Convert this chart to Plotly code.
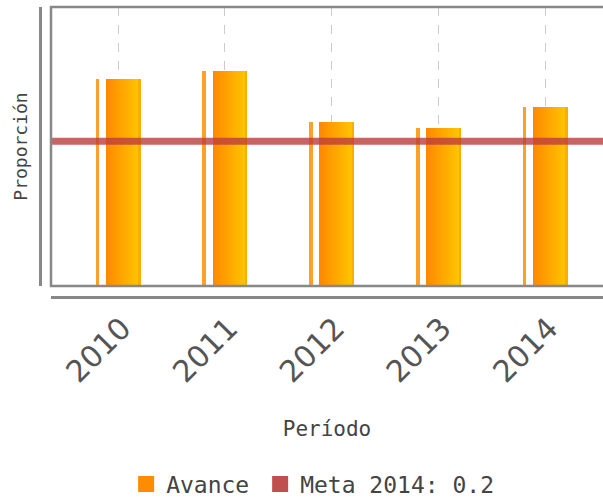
import plotly.graph_objects as go

# ---- data ----
periods = ["2010", "2011", "2012", "2013", "2014"]
avance = [0.286, 0.297, 0.227, 0.218, 0.248]
meta_value = 0.2
series_name = "Avance"
meta_label = "Meta 2014: 0.2"
x_title = "Período"
y_title = "Proporción"

# ---- layout geometry ----
W, H = 603, 501
ML, MR, MT, MB = 40, 0, 7, 204
plot_w = W - ML - MR
plot_h = H - MT - MB
x_dom0 = 11 / plot_w
y_dom0 = 11 / plot_h

fig = go.Figure()

# body of each bar drawn as thin slices to imitate the horizontal gradient
body_offset = -0.113
body_width = 0.323
n_slices = 16
c0 = (255, 138, 0)
c1 = (255, 198, 0)
sw = body_width / n_slices
for i in range(n_slices):
    t = i / (n_slices - 1)
    col = tuple(round(c0[k] + (c1[k] - c0[k]) * t) for k in range(3))
    if i == n_slices - 1:
        col = (255, 172, 0)
    fig.add_trace(go.Bar(
        x=periods, y=avance, width=sw * 1.02, offset=body_offset + i * sw,
        marker=dict(color="rgb(%d,%d,%d)" % col, line=dict(width=0)),
        showlegend=False, hoverinfo="skip"))

# thin highlight strip on the left of each bar
fig.add_trace(go.Bar(
    x=periods, y=avance, width=0.035, offset=-0.21,
    marker=dict(color="rgb(255,160,40)", line=dict(width=0)),
    showlegend=False, hoverinfo="skip"))

# legend entries (two legends so they can be placed like the reference)
fig.add_trace(go.Scatter(x=[None], y=[None], mode="markers", name=series_name,
                         legend="legend",
                         marker=dict(symbol="square", size=16, color="#FF8C00")))
fig.add_trace(go.Scatter(x=[None], y=[None], mode="markers", name=meta_label,
                         legend="legend2",
                         marker=dict(symbol="square", size=16, color="#C0504D")))

# goal line
fig.add_shape(type="line", xref="x domain", x0=0, x1=1, yref="y",
              y0=meta_value, y1=meta_value,
              line=dict(color="rgba(190,60,60,0.8)", width=7), layer="above")

# plot frame (right side falls outside the canvas)
fig.add_shape(type="rect", xref="x domain", x0=0, x1=1.06, yref="y domain",
              y0=0, y1=1, line=dict(color="#888888", width=2.5), layer="above")

legend_font = dict(size=23, family="DejaVu Sans Mono", color="#444444")

fig.update_layout(
    width=W, height=H,
    margin=dict(l=ML, r=MR, t=MT, b=MB, autoexpand=False),
    paper_bgcolor="white", plot_bgcolor="white",
    barmode="overlay", bargap=0,
    font=dict(family="DejaVu Sans Mono", color="#444444"),
    showlegend=True,
    legend=dict(orientation="h", x=0.153, xanchor="left", y=-0.645,
                yanchor="middle", font=legend_font, itemsizing="trace"),
    legend2=dict(orientation="h", x=0.391, xanchor="left", y=-0.645,
                 yanchor="middle", font=legend_font, itemsizing="trace"),
    xaxis=dict(
        type="category", range=[-0.628, 4.543], domain=[x_dom0, 1],
        anchor="free", position=0, automargin=False,
        showline=True, linecolor="#888888", linewidth=2.5,
        showgrid=True, gridcolor="#cccccc", griddash="dash", gridwidth=1,
        ticks="", tickangle=-45, ticklabelshift=4,
        tickfont=dict(family="DejaVu Sans", size=30, color="#555555"),
        title=dict(text=x_title, font=dict(size=21, family="DejaVu Sans Mono",
                                           color="#444444"), standoff=32),
    ),
    yaxis=dict(
        range=[0, 0.3856], domain=[y_dom0, 1], anchor="free", position=0,
        automargin=False,
        showline=True, linecolor="#888888", linewidth=2.5,
        showgrid=False, zeroline=False, showticklabels=False, ticks="",
        title=dict(text=y_title, font=dict(size=18, family="DejaVu Sans Mono",
                                           color="#444444"), standoff=5),
    ),
)

fig.write_html("out.html", config={"displayModeBar": False},
               post_script="document.body.style.margin='0';document.body.style.overflow='hidden';")
